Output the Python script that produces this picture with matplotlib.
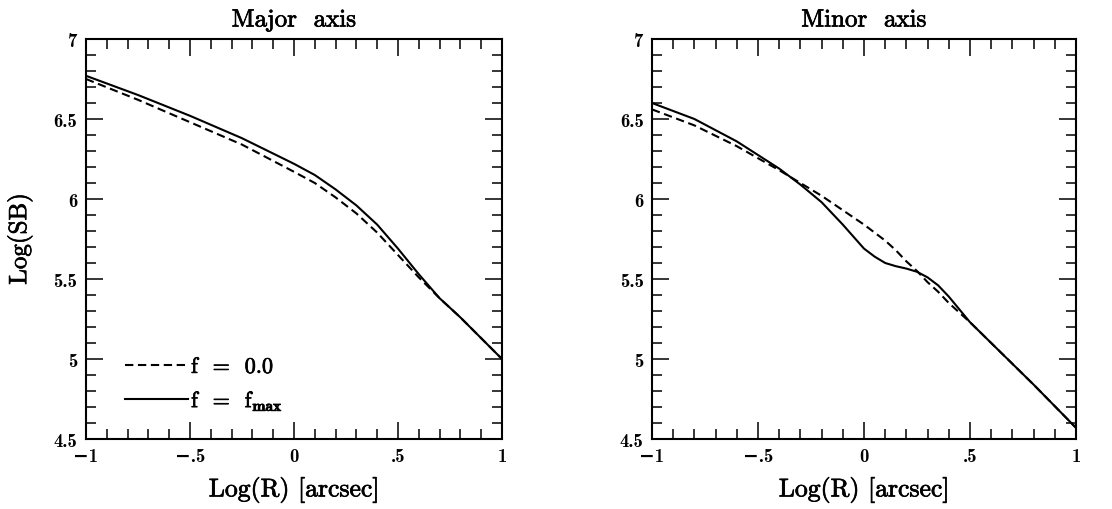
import numpy as np
import matplotlib
matplotlib.use('Agg')
import matplotlib.pyplot as plt
import matplotlib.patheffects as pe
from matplotlib.ticker import MultipleLocator
from matplotlib.lines import Line2D

plt.rcParams['font.family'] = ['cmr10', 'DejaVu Serif']
plt.rcParams['mathtext.fontset'] = 'cm'
plt.rcParams['axes.unicode_minus'] = False

#%% surface brightness profiles, log(SB) vs log(R)
logr_major = [-1.0, -0.75, -0.5, -0.25, 0.0, 0.1, 0.2, 0.3, 0.4, 0.5, 0.6, 0.7, 0.8, 0.9, 1.0]
sb_major_f0 = [6.75, 6.62, 6.48, 6.34, 6.17, 6.10, 6.01, 5.91, 5.79, 5.65, 5.51, 5.38, 5.26, 5.13, 5.00]
sb_major_fmax = [6.77, 6.65, 6.52, 6.38, 6.22, 6.15, 6.06, 5.96, 5.84, 5.69, 5.53, 5.38, 5.26, 5.13, 5.00]

logr_minor = [-1.0, -0.8, -0.6, -0.4, -0.3, -0.2, -0.1, 0.0, 0.05, 0.1, 0.15, 0.2, 0.25,
              0.3, 0.35, 0.4, 0.5, 0.6, 0.8, 1.0]
sb_minor_f0 = [6.56, 6.46, 6.33, 6.18, 6.10, 6.02, 5.93, 5.84, 5.79, 5.74, 5.68, 5.61, 5.55,
               5.48, 5.42, 5.35, 5.23, 5.10, 4.84, 4.57]
sb_minor_fmax = [6.60, 6.50, 6.36, 6.19, 6.09, 5.98, 5.84, 5.69, 5.64, 5.60, 5.58, 5.565, 5.545,
                 5.51, 5.46, 5.39, 5.23, 5.10, 4.84, 4.57]

titles = ['Major  axis', 'Minor  axis']
xticks = [-1, -0.5, 0, 0.5, 1]
xticklabels = ['\u22121', '\u2212.5', '0', '.5', '1']
yticks = [4.5, 5, 5.5, 6, 6.5, 7]
yticklabels = ['4.5', '5', '5.5', '6', '6.5', '7']

# slightly heavier strokes for the CM text
heavy = [pe.withStroke(linewidth=0.5, foreground='black')]
tickfont = dict(family=['cmb10', 'DejaVu Sans'], size=13.5, weight='bold')

fig = plt.figure(figsize=(11.12, 5.10), dpi=100)
ax1 = fig.add_axes([0.0773, 0.1373, 0.3741, 0.7843])
ax2 = fig.add_axes([0.5863, 0.1373, 0.3813, 0.7843])

dash = (4.0, 2.2)
profiles = [(ax1, logr_major, sb_major_f0, sb_major_fmax),
            (ax2, logr_minor, sb_minor_f0, sb_minor_fmax)]

for (ax, x, y0, y1), title in zip(profiles, titles):
    ax.plot(x, y0, color='black', lw=1.5, ls='--', dashes=dash)
    ax.plot(x, y1, color='black', lw=1.5)
    ax.set_xlim(-1, 1)
    ax.set_ylim(4.5, 7)
    ax.set_xticks(xticks)
    ax.set_xticklabels(xticklabels, **tickfont)
    ax.set_yticks(yticks)
    ax.set_yticklabels(yticklabels, **tickfont)
    ax.xaxis.set_minor_locator(MultipleLocator(0.1))
    ax.yaxis.set_minor_locator(MultipleLocator(0.1))
    ax.tick_params(which='both', direction='in', top=True, right=True, width=1.1)
    ax.tick_params(which='major', length=12, pad=6)
    ax.tick_params(which='minor', length=7)
    for s in ax.spines.values():
        s.set_linewidth(1.5)
    ax.set_title(title, fontsize=18, pad=9, path_effects=heavy)
    ax.set_xlabel('Log(R) [arcsec]', fontsize=18.5, labelpad=8, path_effects=heavy)

ax1.set_ylabel('Log(SB)', fontsize=18, path_effects=heavy)
ax1.yaxis.set_label_coords(-0.128, 0.5)

handles = [Line2D([], [], color='black', lw=1.5, ls='--', dashes=dash),
           Line2D([], [], color='black', lw=1.5)]
labels = [r'f  =  0.0', r'f  =  f$_{\mathbf{max}}$']
leg = ax1.legend(handles, labels, loc='lower left', bbox_to_anchor=(0.095, 0.065),
                 frameon=False, fontsize=16, handlelength=2.8, handletextpad=0.15,
                 labelspacing=0.6, borderpad=0, borderaxespad=0)
for t in leg.get_texts():
    t.set_path_effects(heavy)

fig.savefig('out.png', dpi=100)
